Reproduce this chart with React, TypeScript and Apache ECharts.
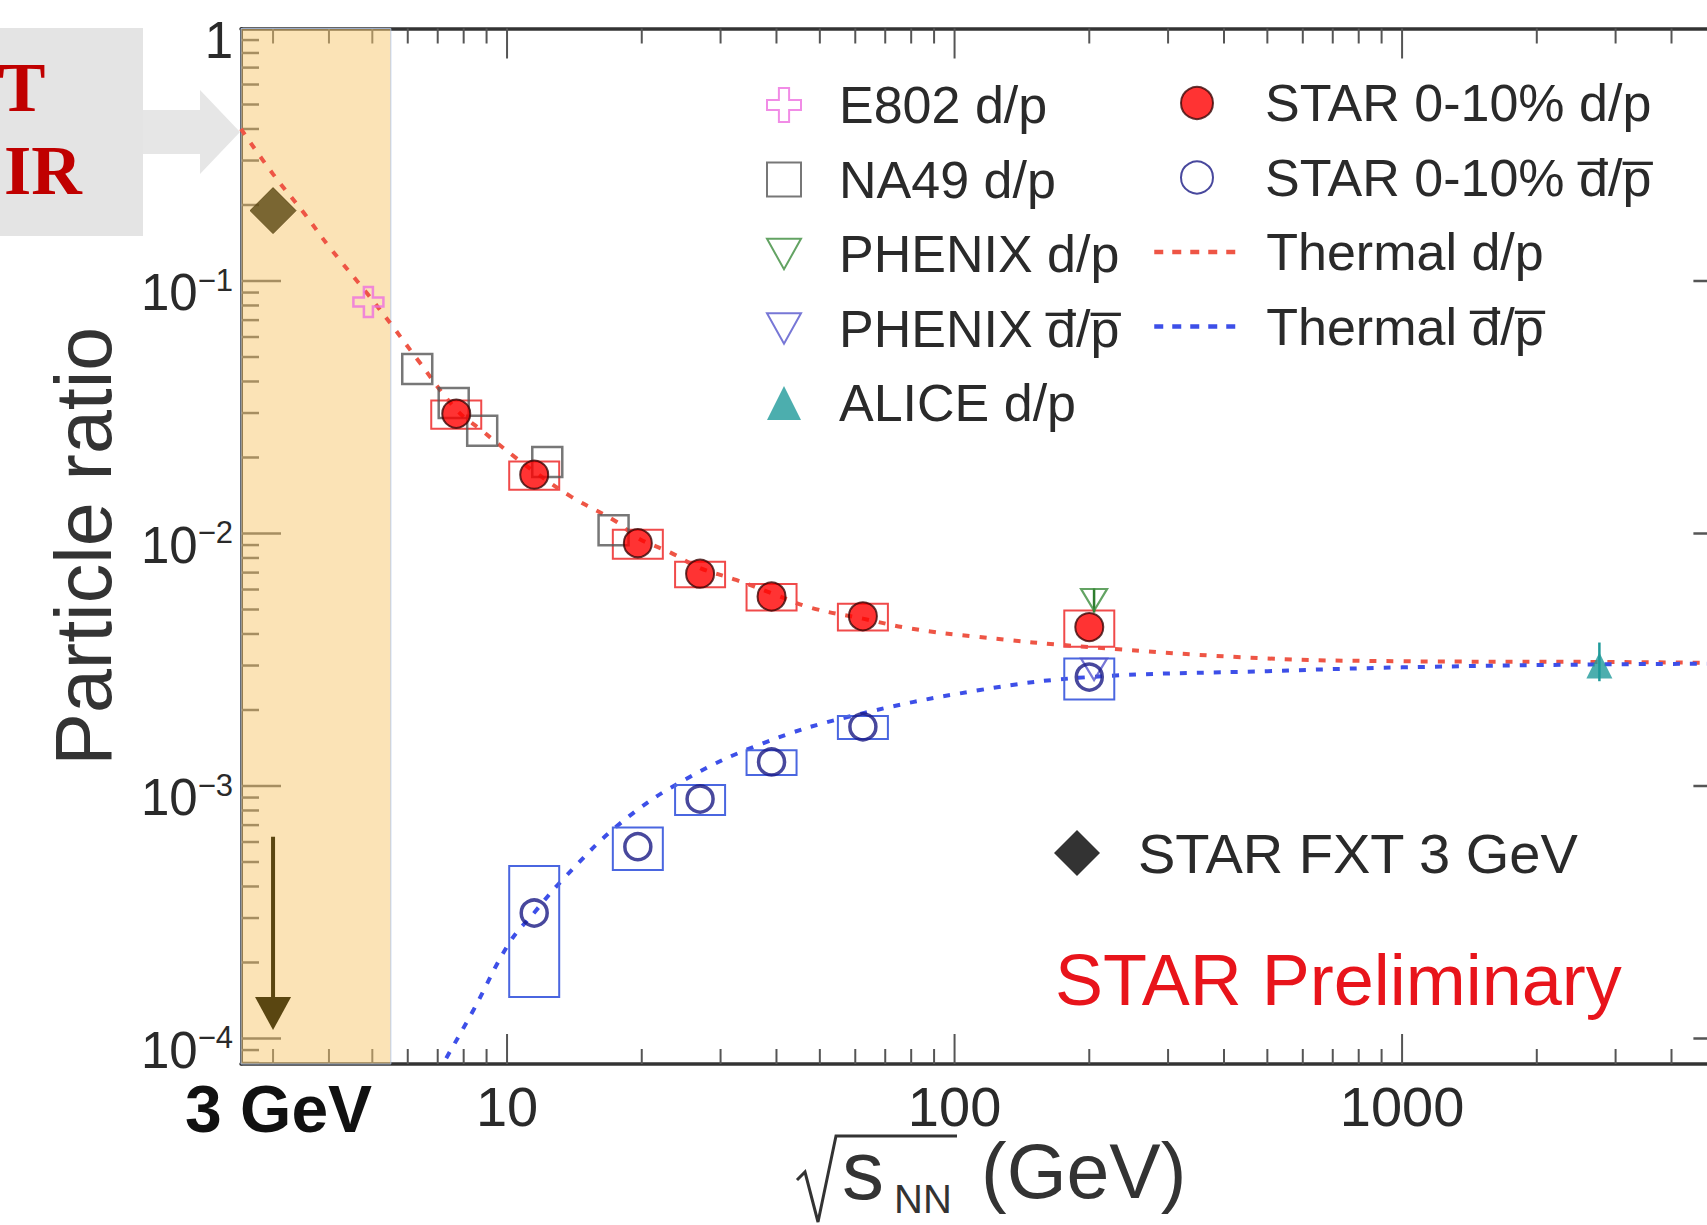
import React, { useEffect, useRef } from "react";
import * as echarts from "echarts";

// ---------------- axis ranges ----------------
const X_MIN = 2.544;
const X_MAX = 5500;
const Y_MIN = 7.925e-5;
const Y_MAX = 1;
const BAND_END = 5.5;

// ---------------- data ----------------
// STAR 0-10% d/p
const starEnergy = [7.7, 11.5, 19.6, 27, 39, 62.4, 200];
const starDP = [0.0298, 0.0171, 0.00915, 0.00693, 0.00563, 0.0047, 0.00426];
const starDPSys = [0.0038, 0.0022, 0.0012, 0.0008, 0.00068, 0.00057, 0.0007];
// STAR 0-10% anti-d / anti-p
const starAntiEnergy = [11.5, 19.6, 27, 39, 62.4, 200];
const starAntiDP = [3.14e-4, 5.75e-4, 8.88e-4, 1.245e-3, 1.715e-3, 2.7e-3];
const starAntiSys = [1.68e-4, 1.1e-4, 1.2e-4, 1.4e-4, 1.8e-4, 5.0e-4];
// NA49 d/p
const na49Energy = [6.3, 7.6, 8.8, 12.3, 17.3];
const na49DP = [0.0448, 0.0329, 0.0255, 0.0192, 0.0103];
// E802 d/p
const e802Energy = [4.9];
const e802DP = [0.0825];
// PHENIX
const phenixEnergy = [205];
const phenixDP = [0.00546];
const phenixDPErr = [0.0006];
const phenixAntiDP = [0.0029];
// ALICE d/p
const aliceEnergy = [2760];
const aliceDP = [0.003];
const aliceLow = [0.0026];
const aliceHigh = [0.0037];
// STAR FXT 3 GeV
const fxtEnergy = [3];
const fxtDP = [0.19];
const fxtAntiTop = [6.3e-4];
const fxtAntiTip = [1.08e-4];
// Thermal model curves
const thermalDPEnergy = [2.544, 3, 3.5, 4, 4.9, 5.5, 6.3, 7.7, 8.8, 10.4, 11.5, 13.9, 17.6, 19.6, 23.2, 27, 32.5, 39, 48, 62.4, 80, 112, 200, 500, 1000, 2700, 5500];
const thermalDP = [0.4, 0.265, 0.188, 0.137, 0.088, 0.0676, 0.049, 0.031, 0.0255, 0.0201, 0.0176, 0.014, 0.0111, 0.0096, 0.0084, 0.0073, 0.00655, 0.0058, 0.00507, 0.0046, 0.0042, 0.0039, 0.00355, 0.0032, 0.00312, 0.0031, 0.00307];
const thermalAntiEnergy = [7.0, 7.2, 8.42, 10.1, 11.5, 13.3, 17.9, 24.9, 37.3, 57.9, 114, 200, 500, 1000, 2700, 5500];
const thermalAnti = [7.3e-5, 7.96e-5, 1.3e-4, 2.38e-4, 3.15e-4, 4.25e-4, 7.11e-4, 1.057e-3, 1.476e-3, 1.88e-3, 2.4e-3, 2.7e-3, 2.85e-3, 2.95e-3, 3.03e-3, 3.05e-3];

// tick positions (1..9 x decade)
const xTickValues: number[] = [];
for (const d of [1, 10, 100, 1000]) for (let m = 1; m <= 9; m++) { const v = m * d; if (v > X_MIN && v < X_MAX) xTickValues.push(v); }
const yTickValues: number[] = [];
for (const d of [1e-5, 1e-4, 1e-3, 1e-2, 1e-1]) for (let m = 1; m <= 9; m++) { const v = m * d; if (v > Y_MIN && v < Y_MAX) yTickValues.push(v); }

// ---------------- styles ----------------
const FONT = '"Liberation Sans", Arial, Helvetica, sans-serif';
const SERIF = '"Liberation Serif", "Times New Roman", serif';
const TEXT = "#2a2a2a";
const AXIS = "#333";
const TICK = "#555";
const FXT_COLOR = "#5A4611";
const RED_LINE = "#EE5545";
const BLUE_LINE = "#3D4FE8";
const BOX_HALF = 25;

const isPow10 = (v: number) => Math.abs(Math.log10(v) - Math.round(Math.log10(v))) < 1e-6;
const midY = (baseline: number, fs: number) => baseline - 0.35 * fs;

const N_DP = "d/p";
const N_ANTI = "d\u0305/p\u0305";

function buildOption(): any {
  const boxSeries = (name: string, xs: number[], ys: number[], sys: number[], color: string) => ({
    type: "custom",
    name,
    z: 4,
    silent: true,
    data: xs.map((x, i) => [x, ys[i] - sys[i], ys[i] + sys[i]]),
    encode: { x: 0, y: [1, 2] },
    renderItem: (params: any, api: any) => {
      const x = api.value(0);
      const top = api.coord([x, api.value(2)]);
      const bot = api.coord([x, api.value(1)]);
      return {
        type: "rect",
        shape: { x: top[0] - BOX_HALF, y: top[1], width: BOX_HALF * 2, height: bot[1] - top[1] },
        style: { fill: "none", stroke: color, lineWidth: 2 },
      };
    },
  });

  const errSeries = (name: string, xs: number[], lo: number[], hi: number[], color: string) => ({
    type: "custom",
    name,
    z: 5,
    silent: true,
    data: xs.map((x, i) => [x, lo[i], hi[i]]),
    encode: { x: 0, y: [1, 2] },
    renderItem: (params: any, api: any) => {
      const x = api.value(0);
      const a = api.coord([x, api.value(1)]);
      const b = api.coord([x, api.value(2)]);
      return { type: "line", shape: { x1: a[0], y1: a[1], x2: b[0], y2: b[1] }, style: { stroke: color, lineWidth: 2.5 } };
    },
  });

  const invTri = "path://M0,0 L20,0 L10,18 Z";
  const cross = "path://M7,0 L13,0 L13,7 L20,7 L20,13 L13,13 L13,20 L7,20 L7,13 L0,13 L0,7 L7,7 Z";

  const legendText = (pad: number, fs = 52, lh = 50) => ({
    fontSize: fs,
    fontFamily: FONT,
    color: TEXT,
    lineHeight: lh,
    padding: [0, 0, 0, pad],
  });

  return {
    animation: false,
    backgroundColor: "#fff",
    grid: { left: 241, top: 28.5, width: 1492.4, height: 1035.5, containLabel: false },
    xAxis: [
      {
        type: "log",
        logBase: 10,
        min: X_MIN,
        max: X_MAX,
        position: "bottom",
        axisLine: { show: true, onZero: false, lineStyle: { color: AXIS, width: 3.5 } },
        axisTick: { show: false },
        splitLine: { show: false },
        axisLabel: {
          margin: 14,
          fontSize: 56,
          fontFamily: FONT,
          color: TEXT,
          formatter: (v: number) => (isPow10(v) && Math.round(Math.log10(v)) >= 1 ? String(Math.round(Math.pow(10, Math.round(Math.log10(v))))) : ""),
        },
      },
      {
        type: "log",
        logBase: 10,
        min: X_MIN,
        max: X_MAX,
        position: "top",
        axisLine: { show: true, onZero: false, lineStyle: { color: AXIS, width: 3.5 } },
        axisTick: { show: false },
        splitLine: { show: false },
        axisLabel: { show: false },
      },
    ],
    yAxis: [
      {
        type: "log",
        logBase: 10,
        min: Y_MIN,
        max: Y_MAX,
        position: "left",
        axisLine: { show: true, onZero: false, lineStyle: { color: AXIS, width: 3 } },
        axisTick: { show: false },
        splitLine: { show: false },
        name: "Particle ratio",
        nameLocation: "middle",
        nameGap: 118,
        nameTextStyle: { fontSize: 79, fontFamily: FONT, color: "#333" },
        axisLabel: {
          margin: 8,
          padding: [24, 0, 0, 0],
          formatter: (v: number) => {
            if (!isPow10(v)) return "";
            const e = Math.round(Math.log10(v));
            if (e === 0) return "{b|1}";
            return "{b|10}{s|\u2212" + -e + "}";
          },
          rich: {
            b: { fontSize: 51, fontFamily: FONT, color: TEXT, lineHeight: 56 },
            s: { fontSize: 31, fontFamily: FONT, color: TEXT, lineHeight: 28, verticalAlign: "top" },
          },
        },
      },
      {
        type: "log",
        logBase: 10,
        min: Y_MIN,
        max: Y_MAX,
        position: "right",
        axisLine: { show: true, onZero: false, lineStyle: { color: AXIS, width: 3 } },
        axisTick: { show: false },
        splitLine: { show: false },
        axisLabel: { show: false },
      },
    ],
    legend: [
      {
        left: 766,
        top: 79,
        orient: "vertical",
        padding: 0,
        itemWidth: 34,
        itemHeight: 34,
        itemGap: 22.5,
        selectedMode: false,
        symbolKeepAspect: true,
        textStyle: legendText(33),
        data: ["E802 " + N_DP, "NA49 " + N_DP, "PHENIX " + N_DP, "PHENIX " + N_ANTI, "ALICE " + N_DP],
      },
      {
        left: 1180,
        top: 77,
        orient: "vertical",
        padding: 0,
        itemWidth: 32,
        itemHeight: 32,
        itemGap: 22.5,
        selectedMode: false,
        symbolKeepAspect: true,
        textStyle: legendText(47),
        data: ["STAR 0-10% " + N_DP, "STAR 0-10% " + N_ANTI],
      },
      {
        left: 1152,
        top: 226,
        orient: "vertical",
        padding: 0,
        itemWidth: 83,
        itemHeight: 2,
        itemGap: 22.5,
        selectedMode: false,
        lineStyle: { width: 4.5, type: [9, 9] },
        textStyle: legendText(24),
        data: ["Thermal " + N_DP, "Thermal " + N_ANTI],
      },
      {
        left: 1054,
        top: 825,
        orient: "vertical",
        padding: 0,
        itemWidth: 46,
        itemHeight: 46,
        selectedMode: false,
        symbolKeepAspect: true,
        textStyle: legendText(33, 56, 54),
        data: [{ name: "STAR FXT 3 GeV", itemStyle: { color: "#000", borderColor: "#000" } }],
      },
    ],
    series: [
      // axis ticks (x, bottom + top)
      {
        type: "custom",
        name: "xticks",
        z: 1,
        silent: true,
        clip: false,
        data: xTickValues.map((v) => [v, Y_MAX]),
        encode: { x: 0, y: 1 },
        renderItem: (params: any, api: any) => {
          const v = api.value(0);
          const len = isPow10(v) ? 30 : 15;
          const px = api.coord([v, Y_MAX])[0];
          const cs = params.coordSys;
          const top = cs.y;
          const bottom = cs.y + cs.height;
          return {
            type: "group",
            children: [
              { type: "line", shape: { x1: px, y1: bottom, x2: px, y2: bottom - len }, style: { stroke: TICK, lineWidth: 2 } },
              { type: "line", shape: { x1: px, y1: top, x2: px, y2: top + len }, style: { stroke: TICK, lineWidth: 2 } },
            ],
          };
        },
      },
      // axis ticks (y, left + right)
      {
        type: "custom",
        name: "yticks",
        z: 1,
        silent: true,
        clip: false,
        data: yTickValues.map((v) => [X_MIN, v]),
        encode: { x: 0, y: 1 },
        renderItem: (params: any, api: any) => {
          const v = api.value(1);
          const len = isPow10(v) ? 40 : 18;
          const py = api.coord([X_MIN, v])[1];
          const cs = params.coordSys;
          const left = cs.x;
          const right = cs.x + cs.width;
          return {
            type: "group",
            children: [
              { type: "line", shape: { x1: left, y1: py, x2: left + len, y2: py }, style: { stroke: TICK, lineWidth: 2.5 } },
              { type: "line", shape: { x1: right, y1: py, x2: right - len, y2: py }, style: { stroke: TICK, lineWidth: 2.5 } },
            ],
          };
        },
      },
      // 3 GeV band
      {
        type: "custom",
        name: "band",
        z: 2,
        silent: true,
        data: [[X_MIN, BAND_END]],
        encode: { x: [0, 1] },
        renderItem: (params: any, api: any) => {
          const a = api.coord([api.value(0), Y_MAX]);
          const b = api.coord([api.value(1), Y_MIN]);
          return {
            type: "rect",
            shape: { x: a[0], y: a[1], width: b[0] - a[0], height: b[1] - a[1] },
            style: { fill: "rgba(248,200,110,0.5)", stroke: "rgba(170,195,235,0.8)", lineWidth: 1 },
          };
        },
      },
      {
        type: "line",
        name: "Thermal " + N_DP,
        z: 3,
        smooth: 0.4,
        symbol: "none",
        showSymbol: false,
        data: thermalDPEnergy.map((x, i) => [x, thermalDP[i]]),
        lineStyle: { color: RED_LINE, width: 4, type: [7, 10] },
        itemStyle: { color: RED_LINE },
      },
      {
        type: "line",
        name: "Thermal " + N_ANTI,
        z: 3,
        smooth: 0.4,
        symbol: "none",
        showSymbol: false,
        data: thermalAntiEnergy.map((x, i) => [x, thermalAnti[i]]),
        lineStyle: { color: BLUE_LINE, width: 4, type: [7, 10] },
        itemStyle: { color: BLUE_LINE },
      },
      {
        type: "scatter",
        name: "NA49 " + N_DP,
        z: 4,
        symbol: "rect",
        symbolSize: 30,
        data: na49Energy.map((x, i) => [x, na49DP[i]]),
        itemStyle: { color: "transparent", borderColor: "#555", borderWidth: 2.5 },
      },
      boxSeries("starSys", starEnergy, starDP, starDPSys, "#F04A4A"),
      boxSeries("starAntiSys", starAntiEnergy, starAntiDP, starAntiSys, "#4A66E0"),
      {
        type: "scatter",
        name: "E802 " + N_DP,
        z: 5,
        symbol: cross,
        symbolSize: 30,
        symbolKeepAspect: true,
        data: e802Energy.map((x, i) => [x, e802DP[i]]),
        itemStyle: { color: "transparent", borderColor: "#EE6FE0", borderWidth: 2.5 },
      },
      errSeries("phenixErr", phenixEnergy, phenixDP.map((v, i) => v - phenixDPErr[i]), phenixDP.map((v, i) => v + phenixDPErr[i]), "#2E7D2E"),
      {
        type: "scatter",
        name: "PHENIX " + N_DP,
        z: 5,
        symbol: invTri,
        symbolSize: [26, 24],
        symbolKeepAspect: true,
        data: phenixEnergy.map((x, i) => [x, phenixDP[i]]),
        itemStyle: { color: "transparent", borderColor: "#3C8C3C", borderWidth: 2.2 },
      },
      {
        type: "scatter",
        name: "PHENIX " + N_ANTI,
        z: 5,
        symbol: invTri,
        symbolSize: [26, 24],
        symbolKeepAspect: true,
        data: phenixEnergy.map((x, i) => [x, phenixAntiDP[i]]),
        itemStyle: { color: "transparent", borderColor: "#5555CC", borderWidth: 2.2 },
      },
      errSeries("aliceErr", aliceEnergy, aliceLow, aliceHigh, "#1F9A9A"),
      {
        type: "scatter",
        name: "ALICE " + N_DP,
        z: 6,
        symbol: "triangle",
        symbolSize: 26,
        data: aliceEnergy.map((x, i) => [x, aliceDP[i]]),
        itemStyle: { color: "#1F9A9A" },
      },
      {
        type: "scatter",
        name: "STAR 0-10% " + N_DP,
        z: 6,
        symbol: "circle",
        symbolSize: 28,
        data: starEnergy.map((x, i) => [x, starDP[i]]),
        itemStyle: { color: "#FF0000", borderColor: "#3a0505", borderWidth: 2 },
      },
      {
        type: "scatter",
        name: "STAR 0-10% " + N_ANTI,
        z: 6,
        symbol: "circle",
        symbolSize: 26,
        data: starAntiEnergy.map((x, i) => [x, starAntiDP[i]]),
        itemStyle: { color: "transparent", borderColor: "#1A1A85", borderWidth: 3.5 },
      },
      {
        type: "scatter",
        name: "STAR FXT 3 GeV",
        z: 6,
        symbol: "diamond",
        symbolSize: 46,
        data: fxtEnergy.map((x, i) => [x, fxtDP[i]]),
        itemStyle: { color: FXT_COLOR, borderColor: FXT_COLOR },
      },
      {
        type: "custom",
        name: "fxtLimit",
        z: 6,
        silent: true,
        data: fxtEnergy.map((x, i) => [x, fxtAntiTop[i], fxtAntiTip[i]]),
        encode: { x: 0, y: [1, 2] },
        renderItem: (params: any, api: any) => {
          const x = api.value(0);
          const p1 = api.coord([x, api.value(1)]);
          const p2 = api.coord([x, api.value(2)]);
          const headH = 33;
          const headW = 18;
          return {
            type: "group",
            children: [
              { type: "line", shape: { x1: p1[0], y1: p1[1], x2: p1[0], y2: p2[1] - headH + 2 }, style: { stroke: FXT_COLOR, lineWidth: 4 } },
              { type: "polygon", shape: { points: [[p2[0] - headW, p2[1] - headH], [p2[0] + headW, p2[1] - headH], [p2[0], p2[1]]] }, style: { fill: FXT_COLOR } },
            ],
          };
        },
      },
    ],
    graphic: [
      { type: "rect", z: 100, shape: { x: 0, y: 28, width: 143, height: 208 }, style: { fill: "#E4E4E4" } },
      {
        type: "polygon",
        z: 100,
        shape: { points: [[143, 110], [200, 110], [200, 90], [240, 132], [200, 174], [200, 154], [143, 154]] },
        style: { fill: "#E6E6E6" },
      },
      {
        type: "text",
        z: 101,
        style: { text: "T", x: 22, y: midY(112, 70), align: "center", verticalAlign: "middle", font: "bold 70px " + SERIF, fill: "#C00000" },
      },
      {
        type: "text",
        z: 101,
        style: { text: "IR", x: 4, y: midY(195, 70), align: "left", verticalAlign: "middle", font: "bold 70px " + SERIF, fill: "#C00000" },
      },
      {
        type: "text",
        z: 101,
        style: { text: "3 GeV", x: 185, y: midY(1132, 66), align: "left", verticalAlign: "middle", font: "bold 66px " + FONT, fill: "#111" },
      },
      {
        type: "text",
        z: 101,
        style: { text: "STAR Preliminary", x: 1055, y: midY(1005, 72), align: "left", verticalAlign: "middle", font: "72px " + FONT, fill: "#E8141B" },
      },
      {
        type: "polyline",
        z: 101,
        shape: { points: [[797, 1180], [805, 1172], [818, 1222], [836, 1136], [957, 1136]] },
        style: { stroke: "#333", lineWidth: 3, fill: "none" },
      },
      {
        type: "text",
        z: 101,
        style: { text: "s", x: 842, y: midY(1199, 84), align: "left", verticalAlign: "middle", font: "84px " + FONT, fill: "#333" },
      },
      {
        type: "text",
        z: 101,
        style: { text: "NN", x: 894, y: midY(1213, 40), align: "left", verticalAlign: "middle", font: "40px " + FONT, fill: "#333" },
      },
      {
        type: "text",
        z: 101,
        style: { text: "(GeV)", x: 981, y: midY(1198, 77), align: "left", verticalAlign: "middle", font: "77px " + FONT, fill: "#333" },
      },
    ],
  };
}

export default function App() {
  const ref = useRef<HTMLDivElement>(null);
  useEffect(() => {
    if (!ref.current) return;
    const chart = echarts.init(ref.current, null, { renderer: "svg" });
    chart.setOption(buildOption());
    return () => chart.dispose();
  }, []);
  return (
    <div style={{ position: "fixed", left: 0, top: 0, width: 1707, height: 1225, overflow: "hidden", background: "#fff" }}>
      <div ref={ref} style={{ position: "absolute", left: 0, top: 0, width: 1745, height: 1225 }} />
    </div>
  );
}
